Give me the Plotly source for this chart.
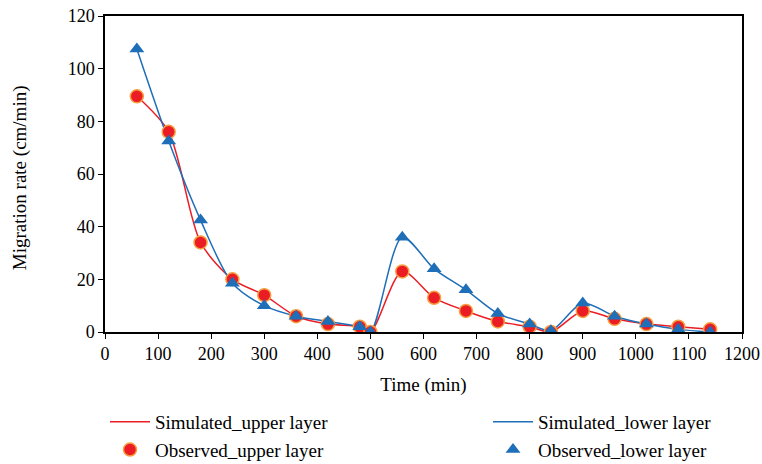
import plotly.graph_objects as go

time_min = [60, 120, 180, 240, 300, 360, 420, 480, 500, 560, 620, 680, 740, 800, 840, 900, 960, 1020, 1080, 1140]
upper_layer = [89.5, 76, 34, 20, 14, 6, 3, 2, 0, 23, 13, 8, 4, 2, 0, 8, 5, 3, 2, 1]
lower_layer = [107.5, 72.5, 42.5, 18.5, 10, 6, 4, 2, 0, 36, 24, 16, 7, 3, 0.5, 11, 6, 3, 1, 0]

RED = "#ec1c24"
BLUE = "#1f6eb8"
FONT = "Liberation Serif"
TICKFONT = dict(family=FONT, size=18, color="black")

fig = go.Figure()
fig.add_trace(go.Scatter(x=time_min, y=upper_layer, mode="lines", name="Simulated_upper layer",
                         legend="legend",
                         line=dict(color=RED, width=1.5, shape="spline", smoothing=0.8)))
fig.add_trace(go.Scatter(x=time_min, y=lower_layer, mode="lines", name="Simulated_lower layer",
                         legend="legend2",
                         line=dict(color=BLUE, width=1.5, shape="spline", smoothing=0.8)))
fig.add_trace(go.Scatter(x=time_min, y=upper_layer, mode="markers", name="Observed_upper layer",
                         legend="legend",
                         marker=dict(symbol="circle", size=13, color=RED,
                                     line=dict(color="#f4a040", width=1.5))))
fig.add_trace(go.Scatter(x=time_min, y=lower_layer, mode="markers", name="Observed_lower layer",
                         legend="legend2",
                         marker=dict(symbol="triangle-up", size=13, color=BLUE,
                                     line=dict(color=BLUE, width=0))))

legend_common = dict(orientation="v", xanchor="left", yanchor="top",
                     xref="container", yref="container", traceorder="normal",
                     font=dict(family=FONT, size=19, color="black"), itemwidth=40,
                     tracegroupgap=0, bgcolor="rgba(0,0,0,0)")

fig.update_layout(
    width=762, height=464,
    margin=dict(l=105, r=20, t=16, b=132, autoexpand=False),
    paper_bgcolor="white", plot_bgcolor="white",
    font=dict(family=FONT, size=18, color="black"),
    xaxis=dict(range=[0, 1200], dtick=100, tick0=0, showgrid=False, zeroline=False,
               showline=True, linecolor="black", linewidth=1.5, mirror=True,
               ticks="outside", ticklen=5, tickcolor="black", tickfont=TICKFONT,
               title=dict(text="Time (min)", standoff=14,
                          font=dict(family=FONT, size=19, color="black"))),
    yaxis=dict(range=[0, 120], dtick=20, tick0=0, showgrid=False, zeroline=False,
               showline=True, linecolor="black", linewidth=1.5, mirror=True,
               ticks="outside", ticklen=5, tickcolor="black", tickfont=TICKFONT),
    annotations=[dict(text="Migration rate (cm/min)", textangle=-90,
                      xref="paper", yref="paper", x=(20 - 105) / 637, y=0.49,
                      xanchor="center", yanchor="middle", showarrow=False,
                      font=dict(family=FONT, size=19, color="black"))],
    showlegend=True,
    legend=dict(x=105 / 762, y=1 - 403 / 464, **legend_common),
    legend2=dict(x=488 / 762, y=1 - 403 / 464, **legend_common),
)

fig.write_html("out.html")
